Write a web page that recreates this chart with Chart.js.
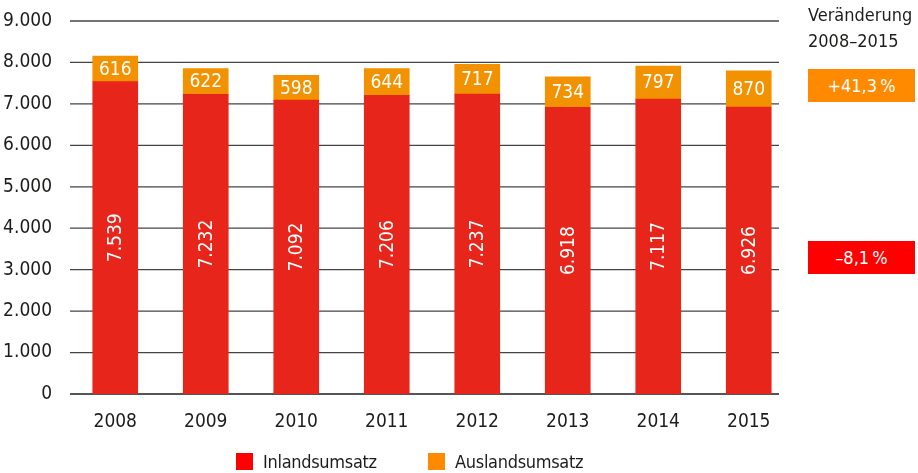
<!DOCTYPE html>
<html>
<head>
<meta charset="utf-8">
<script src="https://cdn.jsdelivr.net/npm/chart.js@4"></script>
<style>
  html, body { margin: 0; padding: 0; background: #fff; }
  body { width: 918px; height: 473px; position: relative; overflow: hidden;
         font-family: "DejaVu Sans", sans-serif; font-stretch: condensed; color: #1d1d1b; }
  #wrap { position: absolute; left: 0; top: 0; width: 918px; height: 473px; }
  .note { position: absolute; left: 808px; font-size: 18px; line-height: 26px; white-space: nowrap; }
  .box { position: absolute; left: 808px; width: 107px; height: 33px; color: #fff;
         font-size: 18px; line-height: 33px; text-align: center; }
  .leg { position: absolute; top: 453px; font-size: 18px; line-height: 17px; white-space: nowrap; letter-spacing: -0.3px; }
  .leg span { display: inline-block; width: 17px; height: 17px; vertical-align: top; margin-right: 10px; }
</style>
</head>
<body>
<div id="wrap"><canvas id="umsatzChart" width="918" height="473"></canvas></div>
<div class="note" style="top:2px">Veränderung<br>2008–2015</div>
<div class="box" style="top:69px; background:#ff8a00">+41,3&#8201;%</div>
<div class="box" style="top:241px; background:#ff0000">–8,1&#8201;%</div>
<div id="legend"></div>
<script>
const years = ['2008', '2009', '2010', '2011', '2012', '2013', '2014', '2015'];
const inland = [7539, 7232, 7092, 7206, 7237, 6918, 7117, 6926];
const ausland = [616, 622, 598, 644, 717, 734, 797, 870];
const seriesNames = ['Inlandsumsatz', 'Auslandsumsatz'];
const yTicks = [0, 1000, 2000, 3000, 4000, 5000, 6000, 7000, 8000, 9000];

const FONT = '"DejaVu Sans", sans-serif';
// the weight slot carries "condensed" so the canvas picks the condensed face
const FONT_W = 'condensed';

function fmt(v) {
    return v.toLocaleString('de-DE');
}

// legend (html, built from the series)
const legendPos = [236, 428];
const legendColors = ['#ff0000', '#ff8a00'];
seriesNames.forEach(function(name, i) {
    const d = document.createElement('div');
    d.className = 'leg';
    d.style.left = legendPos[i] + 'px';
    d.innerHTML = '<span style="background:' + legendColors[i] + '"></span>' + name;
    document.getElementById('legend').appendChild(d);
});

// value labels inside the bars
const barLabels = {
    id: 'barLabels',
    afterDatasetsDraw(chart) {
        const ctx = chart.ctx;
        ctx.save();
        ctx.fillStyle = '#fff';
        ctx.font = FONT_W + ' 19px ' + FONT;
        ctx.textAlign = 'center';
        ctx.textBaseline = 'middle';
        chart.data.datasets.forEach(function(ds, di) {
            chart.getDatasetMeta(di).data.forEach(function(bar, i) {
                const mid = (bar.y + bar.base) / 2;
                const txt = fmt(ds.data[i]);
                if (di === 0) {
                    ctx.save();
                    ctx.translate(bar.x, mid);
                    ctx.rotate(-Math.PI / 2);
                    ctx.fillText(txt, 0, 1);
                    ctx.restore();
                } else {
                    ctx.fillText(txt, bar.x, mid + 1);
                }
            });
        });
        ctx.restore();
    }
};

// horizontal grid lines that stop a bit short of the right edge
const gridLines = {
    id: 'gridLines',
    beforeDatasetsDraw(chart) {
        const ctx = chart.ctx;
        const y = chart.scales.y;
        const area = chart.chartArea;
        ctx.save();
        ctx.lineWidth = 1.3;
        yTicks.forEach(function(t) {
            const py = y.getPixelForValue(t);
            ctx.strokeStyle = t === 0 ? '#1d1d1b' : '#444';
            ctx.beginPath();
            ctx.moveTo(area.left, py);
            ctx.lineTo(area.right - 15, py);
            ctx.stroke();
        });
        ctx.restore();
    }
};

new Chart(document.getElementById('umsatzChart'), {
    type: 'bar',
    data: {
        labels: years,
        datasets: [{
            label: seriesNames[0],
            data: inland,
            backgroundColor: '#e8251a',
            borderWidth: 0
        }, {
            label: seriesNames[1],
            data: ausland,
            backgroundColor: '#f39200',
            borderWidth: 0
        }]
    },
    options: {
        responsive: false,
        animation: false,
        layout: { padding: { left: 0, right: 124, top: 21, bottom: 0 } },
        datasets: { bar: { barThickness: 45 } },
        plugins: {
            legend: { display: false },
            tooltip: { enabled: false }
        },
        scales: {
            x: {
                stacked: true,
                grid: { display: false },
                border: { display: false },
                ticks: { color: '#1d1d1b', font: { family: FONT, size: 19, weight: FONT_W }, padding: 9 },
                afterFit: function(scale) { scale.height = 79; }
            },
            y: {
                stacked: true,
                min: 0,
                max: 9000,
                grid: { display: false, drawTicks: false },
                border: { display: false },
                afterFit: function(scale) {
                    scale.width = 70;
                    scale.paddingTop = 0;
                    scale.paddingBottom = 0;
                },
                afterBuildTicks: function(scale) {
                    scale.ticks = yTicks.map(function(v) { return { value: v }; });
                },
                ticks: {
                    color: '#1d1d1b',
                    padding: 18,
                    font: { family: FONT, size: 19, weight: FONT_W },
                    callback: function(value) { return fmt(value); }
                }
            }
        }
    },
    plugins: [gridLines, barLabels]
});
</script>
</body>
</html>
